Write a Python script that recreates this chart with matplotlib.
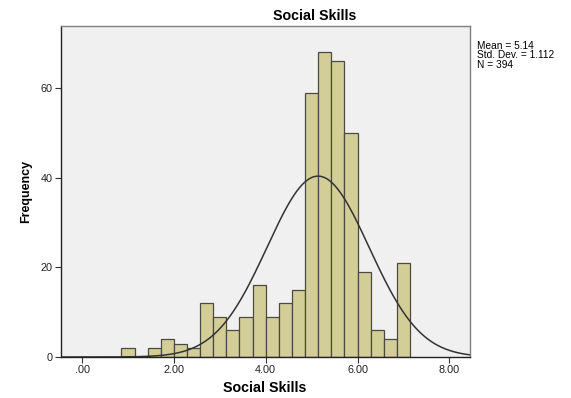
import numpy as np
import matplotlib
matplotlib.use("Agg")
from matplotlib import pyplot as plt

# Histogram counts, bins are 2/7 wide starting at 6/7
BIN_WIDTH = 2 / 7
FIRST_EDGE = 3 * BIN_WIDTH
counts = [2, 0, 2, 4, 3, 2, 12, 9, 6, 9, 16, 9, 12, 15, 59, 68, 66, 50, 19, 6, 4, 21]
mean = 5.14
std_dev = 1.112
n_total = 394
x_ticks = [0, 2, 4, 6, 8]
x_tick_labels = [".00", "2.00", "4.00", "6.00", "8.00"]
y_ticks = [0, 20, 40, 60]

plt.rcParams["font.family"] = ["Liberation Sans", "DejaVu Sans"]

fig = plt.figure(figsize=(5.71, 3.98), dpi=100)
ax = fig.add_axes([61 / 571, 41 / 398, 409 / 571, 331 / 398])
ax.set_facecolor("#f0f0f0")

lefts = FIRST_EDGE + BIN_WIDTH * np.arange(len(counts))
ax.bar(lefts, counts, width=BIN_WIDTH, align="edge",
       color="#d3ce98", edgecolor="#4a4a40", linewidth=0.9)

xmin, xmax = -0.46, 8.45
xs = np.linspace(xmin, xmax, 400)
pdf = np.exp(-0.5 * ((xs - mean) / std_dev) ** 2) / (std_dev * np.sqrt(2 * np.pi))
ax.plot(xs, pdf * n_total * BIN_WIDTH, color="#333333", linewidth=1.1)

ax.set_xlim(xmin, xmax)
ax.set_ylim(0, 73.9)
ax.set_xticks(x_ticks)
ax.set_xticklabels(x_tick_labels)
ax.set_yticks(y_ticks)
ax.tick_params(axis="both", labelsize=7.8, length=4.5, width=0.8, color="#333333",
               labelcolor="#222222", pad=1.5)

for side in ("left", "bottom"):
    ax.spines[side].set_color("#222222")
    ax.spines[side].set_linewidth(1.0)
for side in ("top", "right"):
    ax.spines[side].set_color("#808080")
    ax.spines[side].set_linewidth(1.0)

fig.text(265 / 571, 1 - 388 / 398, "Social Skills", ha="center", va="center",
         fontsize=10.3, fontweight="bold")
fig.text(315 / 571, 1 - 16 / 398, "Social Skills", ha="center", va="center",
         fontsize=10.3, fontweight="bold")
fig.text(26 / 571, 1 - 191 / 398, "Frequency", ha="center", va="center",
         rotation=90, fontsize=9, fontweight="bold")

fig.text(477 / 571, 1 - 41 / 398,
         f"Mean = {mean:.2f}\nStd. Dev. = {std_dev:.3f}\nN = {n_total}",
         ha="left", va="top", fontsize=7.3, linespacing=0.92)

fig.savefig("out.png", dpi=100)
